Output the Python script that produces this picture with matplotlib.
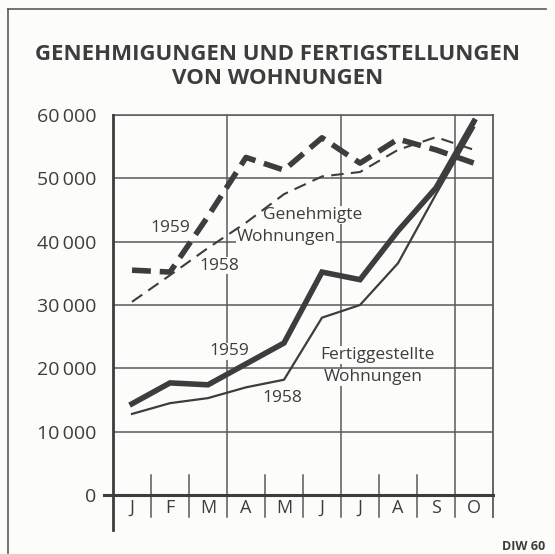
import matplotlib.pyplot as plt
from matplotlib.lines import Line2D

months = ['J', 'F', 'M', 'A', 'M', 'J', 'J', 'A', 'S', 'O']
gen_1959 = [35500, 35200, 44000, 53300, 51300, 56400, 52400, 56200, 54500, 52400]
gen_1958 = [30500, 34700, 39000, 43000, 47500, 50300, 51000, 54500, 56500, 54500]
fert_1959 = [14400, 17700, 17400, 20700, 24000, 35200, 34000, 41700, 48500, 59000]
fert_1958 = [12800, 14500, 15300, 17000, 18200, 28000, 30000, 36600, 47500, 58000]
y_ticks = [0, 10000, 20000, 30000, 40000, 50000, 60000]
y_labels = ['0', '10\u2009000', '20\u2009000', '30\u2009000', '40\u2009000', '50\u2009000', '60\u2009000']

ink = '#3d3d3d'
grid = '#5a5a5a'
font = ['Open Sans', 'DejaVu Sans']

fig = plt.figure(figsize=(5.55, 5.54), dpi=100)
fig.patch.set_facecolor('#fcfcfb')
ax = fig.add_axes([113 / 555, 1 - 495 / 554, 380 / 555, 380 / 554])
ax.set_facecolor('none')
x = list(range(len(months)))

# horizontal grid
for v in y_ticks[1:]:
    ax.axhline(v, color=grid, lw=1.1, zorder=1)
# vertical grid every quarter, running down into the label strip
for xv in [2.5, 5.5, 8.5]:
    ax.plot([xv, xv], [-0.058, 1], transform=ax.get_xaxis_transform(),
            color=grid, lw=1.1, clip_on=False, zorder=1)
# month separators
for xv in [0.5, 1.5, 3.5, 4.5, 6.5, 7.5]:
    ax.plot([xv, xv], [-0.058, 0.053], transform=ax.get_xaxis_transform(),
            color=grid, lw=1.1, clip_on=False, zorder=1)
ax.plot([9.5, 9.5], [-0.058, 1], transform=ax.get_xaxis_transform(),
        color=grid, lw=1.3, clip_on=False, zorder=1)
ax.plot([-0.5, -0.5], [-0.092, 1], transform=ax.get_xaxis_transform(),
        color=ink, lw=2.0, clip_on=False, zorder=2)
ax.plot([-0.75, 9.5], [0, 0], color=ink, lw=2.2, clip_on=False, zorder=2)
ax.plot([-0.5, 9.5], [60000, 60000], color=grid, lw=1.1, clip_on=False, zorder=1)

ax.plot(x, gen_1959, color=ink, lw=4.0, dashes=(3.4, 1.6), solid_capstyle='butt',
        dash_capstyle='butt', zorder=4)
ax.plot(x, gen_1958, color=ink, lw=1.5, dashes=(6, 3.5), zorder=4)
ax.plot(x, fert_1959, color=ink, lw=4.0, solid_joinstyle='miter', zorder=4)
ax.plot(x, fert_1958, color=ink, lw=1.6, zorder=4)

ax.set_xlim(-0.5, 9.5)
ax.set_ylim(0, 60000)
ax.set_yticks(y_ticks)
ax.set_yticklabels(y_labels, family=font, fontsize=14, color=ink)
ax.set_xticks(x)
ax.set_xticklabels(months, family=font, fontsize=13, color=ink)
ax.tick_params(length=0, pad=3)
ax.tick_params(axis='y', pad=12)
for s in ax.spines.values():
    s.set_visible(False)

box = dict(facecolor='#fcfcfb', edgecolor='none', pad=0.5)
lab = dict(family=font, color=ink, ha='center', va='center', zorder=3)
ax.text(1.0, 42200, '1959', fontsize=12.5, bbox=box, **lab)
ax.text(2.3, 36200, '1958', fontsize=12.5, bbox=box, **lab)
ax.text(4.75, 44200, 'Genehmigte', fontsize=12.5, bbox=box, **lab)
ax.text(4.05, 40700, 'Wohnungen', fontsize=12.5, bbox=box, **lab)
ax.text(2.55, 22700, '1959', fontsize=12.5, bbox=box, **lab)
ax.text(3.95, 15300, '1958', fontsize=12.5, bbox=box, **lab)
ax.text(6.45, 22100, 'Fertiggestellte', fontsize=12.5, bbox=box, **lab)
ax.text(6.35, 18600, 'Wohnungen', fontsize=12.5, bbox=box, **lab)

fig.text(0.5, 1 - 55 / 554, 'GENEHMIGUNGEN UND FERTIGSTELLUNGEN', ha='center', va='center',
         family=font, fontsize=16, fontweight='bold', color=ink)
fig.text(0.5, 1 - 78 / 554, 'VON WOHNUNGEN', ha='center', va='center',
         family=font, fontsize=16, fontweight='bold', color=ink)
fig.text(524 / 555, 1 - 546 / 554, 'DIW 60', ha='center', va='center',
         family=font, fontsize=9, fontweight='bold', color=ink)

# outer frame: top and left only
fig.add_artist(Line2D([8 / 555, 546 / 555], [1 - 9 / 554, 1 - 9 / 554],
                      transform=fig.transFigure, color=grid, lw=1.2))
fig.add_artist(Line2D([8 / 555, 8 / 555], [1 - 9 / 554, 1 - 553 / 554],
                      transform=fig.transFigure, color=grid, lw=1.2))

fig.savefig('out.png', dpi=100, facecolor=fig.get_facecolor())
